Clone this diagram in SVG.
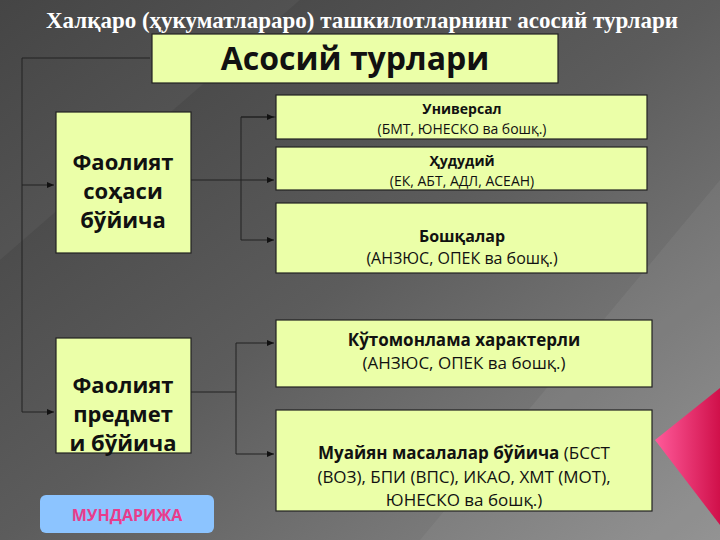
<svg xmlns="http://www.w3.org/2000/svg" width="720" height="540" viewBox="0 0 720 540">
<defs>
<linearGradient id="bg" x1="0" y1="0" x2="1" y2="1">
<stop offset="0" stop-color="#3e3e3e"/><stop offset="0.5" stop-color="#5c5c5c"/><stop offset="1" stop-color="#8e8e8e"/>
</linearGradient>
<linearGradient id="pk" x1="0" y1="0" x2="1" y2="0">
<stop offset="0" stop-color="#ff5a9a"/><stop offset="1" stop-color="#d0104a"/>
</linearGradient>
<marker id="ar" markerWidth="8" markerHeight="8" refX="7" refY="4" orient="auto" markerUnits="userSpaceOnUse">
<path d="M0,1 L7,4 L0,7 z" fill="#111"/>
</marker>
<style>
.box{fill:#ebffa8;stroke:#222;stroke-width:1.2}
.t{font-family:"Open Sans","Noto Sans",sans-serif;fill:#111;text-anchor:middle}
.b{font-weight:bold}
.c{fill:none;stroke:#222;stroke-width:1}
</style>
</defs>
<rect width="720" height="540" fill="url(#bg)"/>
<polygon points="0,0 300,0 0,260" fill="#fff" opacity="0.04"/>
<polygon points="420,540 720,180 720,540" fill="#fff" opacity="0.05"/>
<polygon points="655,440 720,388 720,525" fill="url(#pk)"/>
<text x="362" y="28" font-family="Liberation Serif,serif" font-weight="bold" font-size="23" fill="#fff" text-anchor="middle">Халқаро (ҳукуматлараро) ташкилотларнинг асосий турлари</text>
<g id="connectors">
<path class="c" d="M150,58 H22 V412 H54" marker-end="url(#ar)"/>
<path class="c" d="M22,185 H54" marker-end="url(#ar)"/>
<path class="c" d="M191,180 H241"/>
<path class="c" d="M276,117 H241 V240 H274" marker-end="url(#ar)"/>
<path class="c" d="M241,117 H274" marker-end="url(#ar)"/>
<path class="c" d="M241,180 H274" marker-end="url(#ar)"/>
<path class="c" d="M191,392 H236"/>
<path class="c" d="M236,343 V454 H274" marker-end="url(#ar)"/>
<path class="c" d="M236,343 H274" marker-end="url(#ar)"/>
</g>
<g id="top"><rect class="box" x="152" y="34" width="406" height="49" stroke-width="2"/><text class="t b" x="355" y="70" font-size="32">Асосий турлари</text></g>
<g id="l1"><rect class="box" x="56" y="112" width="135" height="141"/>
<text class="t b" x="123" y="170" font-size="22">Фаолият</text><text class="t b" x="123" y="199" font-size="22">соҳаси</text><text class="t b" x="123" y="228" font-size="22">бўйича</text></g>
<g id="l2"><rect class="box" x="56" y="338" width="135" height="115"/>
<text class="t b" x="123" y="393" font-size="22">Фаолият</text><text class="t b" x="123" y="422" font-size="22">предмет</text><text class="t b" x="123" y="451" font-size="22">и бўйича</text></g>
<g id="a"><rect class="box" x="276" y="95" width="371" height="44"/>
<text class="t b" x="462" y="114" font-size="14">Универсал</text><text class="t" x="462" y="134" font-size="14">(БМТ, ЮНЕСКО ва бошқ.)</text></g>
<g id="b"><rect class="box" x="276" y="147" width="371" height="43"/>
<text class="t b" x="462" y="166" font-size="14">Ҳудудий</text><text class="t" x="462" y="186" font-size="14">(ЕК, АБТ, АДЛ, АСЕАН)</text></g>
<g id="c"><rect class="box" x="276" y="203" width="371" height="70"/>
<text class="t b" x="462" y="242" font-size="16">Бошқалар</text><text class="t" x="462" y="264" font-size="16">(АНЗЮС, ОПЕК ва бошқ.)</text></g>
<g id="d"><rect class="box" x="276" y="320" width="376" height="67"/>
<text class="t b" x="464" y="346" font-size="17">Кўтомонлама характерли</text><text class="t" x="464" y="369" font-size="17">(АНЗЮС, ОПЕК ва бошқ.)</text></g>
<g id="e"><rect class="box" x="276" y="410" width="376" height="101"/>
<text class="t" x="464" y="459" font-size="17"><tspan font-weight="bold">Муайян масалалар бўйича</tspan> (БССТ</text><text class="t" x="464" y="483" font-size="17">(ВОЗ), БПИ (ВПС), ИКАО, ХМТ (МОТ),</text><text class="t" x="464" y="506" font-size="17">ЮНЕСКО ва бошқ.)</text></g>
<g id="btn"><rect x="40" y="495" width="174" height="38" rx="6" fill="#8cc4ff"/>
<text x="127" y="521" font-family="Open Sans,sans-serif" font-weight="bold" font-size="16" fill="#e83c8c" text-anchor="middle">МУНДАРИЖА</text></g>
</svg>
